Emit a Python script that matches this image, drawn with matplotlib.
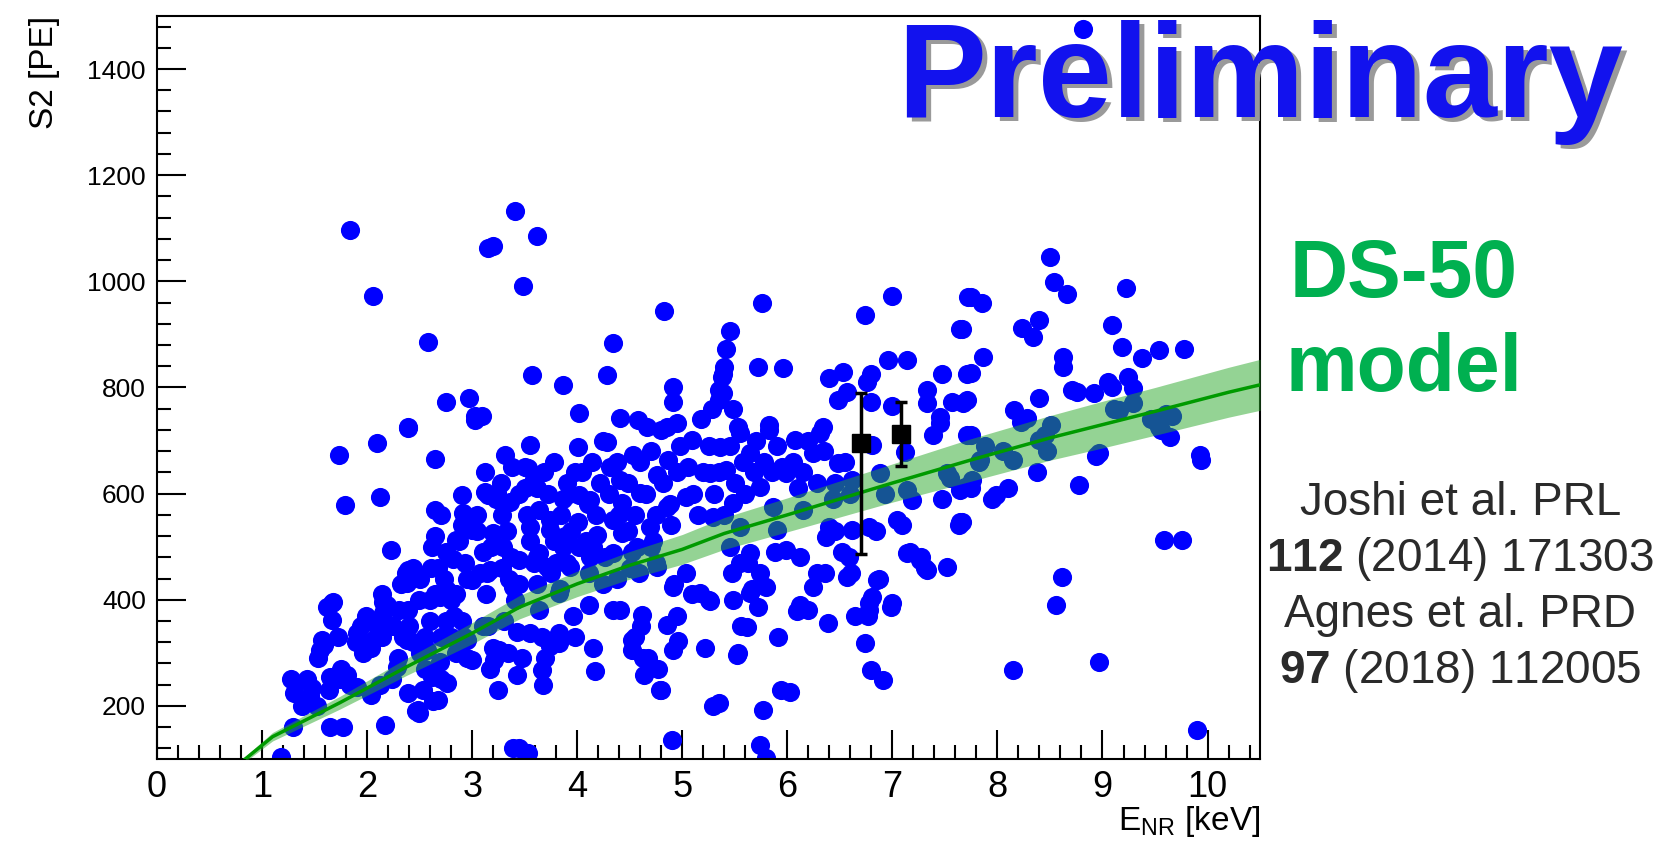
import numpy as np
import matplotlib
matplotlib.use("Agg")
import matplotlib.pyplot as plt
from matplotlib.ticker import MultipleLocator

plt.rcParams["font.family"] = ["Liberation Sans", "DejaVu Sans"]
plt.rcParams["mathtext.fontset"] = "custom"
plt.rcParams["mathtext.rm"] = "Liberation Sans"
plt.rcParams["mathtext.bf"] = "Liberation Sans:bold"

# nuclear recoil events: energy [keV] and S2 [PE]
e_nr = [
    8.81, 1.84, 3.41, 3.20, 3.62, 3.15, 2.06, 3.48, 4.83, 2.58, 4.34,
    3.57, 3.86, 4.28, 4.02, 4.41, 4.58, 4.91, 4.91, 5.35, 5.42, 5.40, 5.38, 5.35, 4.85, 3.09,
    2.75, 2.97, 3.03, 2.39,
    5.76, 6.74, 7.00, 7.72, 7.64, 5.45, 5.72, 5.96, 6.96, 7.14, 7.47, 7.71, 6.40, 6.53, 6.80,
    6.76, 6.57, 6.48, 6.80, 7.00, 7.33, 7.33, 7.45, 7.57, 7.71, 5.39, 5.39, 5.53, 5.83, 6.34,
    8.50, 8.54, 8.66, 9.22, 7.75, 7.85, 7.66, 8.23, 8.40, 8.34, 9.09, 9.19, 9.54, 9.38, 9.78,
    7.86, 7.75, 8.62, 8.62, 8.40, 8.76, 8.92, 9.09, 9.24, 9.29, 8.16, 8.28, 7.67, 9.16, 9.66,
    7.75, 8.97, 8.78, 7.99, 7.66, 9.59, 9.76, 8.61, 8.56, 9.94, 9.93, 9.64, 9.54, 7.83, 8.15,
    8.40, 8.47, 7.76, 7.69,
    8.15, 8.97, 9.90,
    5.74, 5.80, 6.09, 6.39, 6.78, 6.99, 5.62, 5.52, 6.74, 6.80, 6.91, 6.03, 5.77, 5.35, 5.72,
    3.39, 3.53, 3.45, 4.90, 4.15, 4.17, 3.43, 3.66, 3.67, 3.21, 3.34, 3.74, 3.83, 4.52, 4.52,
    4.67, 4.64, 4.80, 4.91, 4.96, 4.85, 4.62, 4.34, 5.26, 3.26, 3.83, 3.55,
    1.67, 1.57, 1.55, 1.31, 1.30, 1.46, 1.65, 1.81, 1.90, 1.52, 1.65, 1.77, 1.29, 2.17, 2.49,
    1.18, 2.06, 2.13, 2.15, 2.38, 2.28, 2.39, 2.62, 2.67, 2.48, 2.76, 3.00, 2.95, 2.57, 2.69,
    1.62, 1.67, 1.90,
    2.39, 3.03, 2.09, 1.73, 2.65, 1.79, 2.12, 2.65, 2.90, 3.15, 2.91, 2.23, 2.61, 2.39, 1.68,
    2.15, 2.38, 2.69, 2.85, 3.00, 2.82, 3.00, 2.76, 3.14,
    3.31, 3.55, 3.53, 3.58, 3.24, 3.36, 3.12, 3.90, 4.01, 4.02, 4.14, 4.28, 4.31, 4.41, 4.53,
    4.66, 4.80, 4.95, 5.09, 4.86, 4.76, 4.60, 4.43, 4.34, 4.12, 4.01, 3.64, 3.55, 3.74, 3.20,
    3.29, 3.45, 3.64, 3.86, 4.02, 4.19, 4.43, 4.69, 4.85, 5.04, 5.26, 5.36, 5.29, 3.71, 3.93,
    4.12, 4.34, 4.57, 5.04, 5.17, 4.91, 4.76, 3.83, 3.39, 3.17,
    5.55, 5.83, 6.07, 6.31, 5.64, 6.24, 6.48, 6.81, 7.12, 7.45, 7.71, 5.42, 5.74, 5.99, 6.28,
    6.62, 6.88, 7.14, 7.19, 7.52, 7.64, 5.48, 5.86, 6.15, 6.40, 5.90, 5.55, 5.45, 5.64, 5.99,
    6.12, 6.37, 6.62, 6.78, 7.09, 7.64, 6.59, 6.85, 6.57, 6.28, 6.24, 7.26, 7.52, 7.33, 7.14,
    5.74, 5.55, 5.64, 5.48, 6.12, 6.78, 7.00, 5.80,
    2.04, 2.09, 2.14, 2.19, 2.14, 2.04, 2.12, 2.24, 2.29, 2.34, 2.39, 2.37, 2.44, 2.32, 2.47,
    2.53, 2.55, 2.60, 2.65, 2.67, 2.73, 2.75, 2.80, 2.83, 2.63, 2.70, 2.85, 2.87, 2.93, 2.95,
    2.92, 2.44, 2.49, 2.65, 2.70,
    1.28, 1.43, 1.53, 1.59, 1.48, 1.64, 1.74, 1.84, 1.89, 1.94, 1.99, 1.96, 1.72, 1.75, 1.38,
    3.05, 3.10, 3.07, 3.13, 3.15, 3.20, 3.17, 3.23, 3.27, 3.33, 3.37, 3.35, 3.41, 3.43, 3.47,
    3.50, 3.52, 3.55, 3.59, 3.62, 3.64, 3.66, 3.69, 3.74, 3.78, 3.80, 3.84, 3.86, 3.94, 3.96,
    3.98, 3.30, 3.25, 3.10,
    4.11, 4.41, 4.55, 4.61, 4.63, 4.77, 4.79, 4.95, 4.92, 4.38, 4.26, 4.08, 4.11, 4.48, 4.52,
    4.59, 4.72, 4.75, 4.89,
    5.09, 5.25, 5.22, 5.29, 5.53, 5.56, 5.66, 5.63, 5.47, 5.91, 5.94, 5.88,
    6.36, 6.20, 6.43, 6.52, 6.61, 6.64, 6.77, 6.81, 6.84, 6.87, 6.93,
    7.04, 7.17, 7.27, 7.31, 7.39, 7.47, 7.55, 7.63, 7.75, 7.82, 7.88, 7.95,
    8.05, 8.10, 8.22, 8.38, 8.45, 8.51, 8.71, 8.94,
    9.05, 9.11, 9.29, 9.46, 9.56, 9.60,
    3.05, 3.12, 3.18, 3.28, 3.38, 3.45, 3.50, 3.62, 3.68, 3.72, 3.78, 3.85, 3.88, 3.92, 3.98,
    3.28, 3.45, 3.62, 3.90, 3.75,
    4.05, 4.10, 4.18, 4.22, 4.25, 4.30, 4.38, 4.40, 4.48, 4.55, 4.60, 4.65, 4.70, 4.75, 4.82,
    4.88, 4.95, 4.98, 4.70, 4.50, 4.25, 4.15,
    5.05, 5.10, 5.15, 5.20, 5.25, 5.30, 5.35, 5.40, 5.45, 5.50, 5.58, 5.60, 5.68, 5.70, 5.78,
    5.85, 5.90, 5.95, 5.18, 5.28, 5.48,
    2.25, 2.30, 2.40, 2.50, 2.55, 2.60, 2.70, 2.75, 2.80, 2.90, 2.95, 2.85, 2.50, 2.62, 2.90,
    6.05, 6.15, 6.20, 6.35, 6.45, 6.55, 6.60, 6.10, 6.45,
]
s2 = [
    1475, 1096, 1133, 1067, 1086, 1063, 973, 992, 945, 885, 883,
    823, 804, 823, 751, 742, 738, 801, 772, 795, 873, 838, 819, 776, 725, 747,
    772, 780, 746, 725,
    959, 936, 973, 971, 911, 907, 838, 836, 851, 851, 826, 826, 817, 829, 826,
    810, 791, 776, 772, 766, 795, 770, 744, 772, 777, 826, 789, 725, 729, 725,
    1045, 998, 977, 987, 971, 959, 911, 913, 927, 895, 917, 876, 870, 855, 873,
    857, 827, 857, 838, 781, 791, 789, 801, 819, 799, 757, 742, 770, 757, 747,
    710, 677, 616, 597, 547, 512, 512, 443, 390, 663, 672, 706, 725, 663, 663,
    701, 681, 625, 612,
    268, 282, 155,
    127, 102, 378, 356, 381, 387, 349, 296, 318, 268, 249, 227, 193, 206, 387,
    121, 112, 120, 136, 310, 265, 259, 268, 240, 287, 300, 312, 319, 324, 306,
    290, 259, 230, 306, 322, 353, 372, 381, 397, 306, 338, 338,
    394, 324, 306, 244, 224, 218, 255, 259, 236, 199, 161, 161, 161, 165, 187,
    104, 324, 358, 376, 324, 274, 224, 255, 212, 193, 244, 287, 324, 306, 282,
    387, 362, 338,
    723, 738, 695, 672, 666, 578, 593, 569, 597, 597, 563, 494, 460, 456, 396,
    396, 432, 406, 512, 531, 476, 437, 418, 450,
    672, 691, 648, 622, 601, 584, 603, 620, 687, 597, 659, 697, 650, 625, 672,
    725, 719, 733, 701, 663, 635, 601, 582, 550, 588, 546, 569, 537, 531, 526,
    499, 475, 488, 499, 499, 522, 526, 537, 575, 593, 639, 687, 556, 462, 462,
    481, 488, 499, 450, 413, 424, 462, 413, 424, 456,
    714, 719, 701, 714, 676, 676, 657, 691, 678, 734, 710, 644, 612, 638, 620,
    625, 638, 606, 588, 638, 606, 582, 575, 569, 537, 531, 537, 499, 488, 494,
    481, 518, 531, 537, 541, 546, 481, 437, 443, 450, 424, 475, 462, 456, 488,
    450, 469, 413, 400, 390, 394, 394, 424,
    310, 350, 330, 390, 410, 220, 240, 250, 290, 330, 380, 450, 460, 430, 190,
    230, 330, 360, 410, 460, 440, 490, 330, 370, 210, 250, 410, 510, 470, 290,
    330, 320, 400, 520, 560,
    250, 250, 290, 314, 234, 230, 250, 240, 320, 350, 370, 300, 330, 270, 200,
    530, 490, 450, 410, 350, 310, 270, 590, 620, 530, 480, 440, 400, 340, 290,
    610, 560, 510, 470, 430, 380, 330, 290, 550, 510, 470, 420, 590, 530, 370,
    330, 360, 230, 350,
    390, 380, 330, 350, 290, 270, 230, 370, 430, 440, 480, 510, 450, 530, 490,
    450, 510, 470, 540,
    410, 400, 310, 200, 300, 350, 420, 470, 450, 330, 230, 490,
    450, 380, 590, 490, 450, 370, 370, 405, 530, 440, 600,
    550, 490, 480, 460, 710, 590, 630, 540, 610, 660, 690, 590,
    680, 610, 735, 640, 710, 730, 795, 670,
    810, 760, 770, 740, 720, 750,
    560, 640, 500, 560, 650, 600, 650, 610, 640, 600, 660, 560, 520, 600, 640,
    460, 430, 480, 470, 450,
    640, 580, 560, 620, 700, 600, 660, 560, 620, 560, 660, 600, 680, 560, 620,
    580, 640, 690, 500, 460, 430, 500,
    650, 600, 560, 640, 690, 600, 640, 560, 690, 620, 660, 600, 640, 700, 660,
    640, 690, 650, 740, 760, 760,
    350, 380, 350, 300, 270, 400, 330, 360, 400, 360, 440, 300, 440, 500, 540,
    660, 640, 700, 680, 620, 660, 600, 610, 530,
]

# DS-50 model prediction with its uncertainty band
model_e = [0.84, 1.1, 1.74, 2.38, 3.0, 3.45, 4.0, 4.5, 5.0, 5.4, 6.0, 6.5,
           7.0, 7.74, 8.5, 9.0, 9.5, 10.2, 10.5]
model_s2 = [100, 142, 206, 274, 337, 386, 430, 465, 495, 525, 560, 590,
            620, 663, 705, 730, 755, 791, 805]
model_err = [5, 8, 12, 16, 20, 22, 24, 26, 28, 30, 32, 34,
             36, 40, 42, 44, 45, 47, 48]

# mean S2 points with error bars
mean_e = [6.70, 7.08]
mean_s2 = [695, 713]
mean_lo = [487, 652]
mean_hi = [789, 772]

x_ticks = list(range(0, 11))
y_ticks = [200, 400, 600, 800, 1000, 1200, 1400]

fig = plt.figure(figsize=(16.65, 8.49), dpi=100)
ax = fig.add_axes([0.0943, 0.106, 0.6625, 0.8752])

ax.scatter(e_nr, s2, s=190, marker="o", color="#0000ff", linewidths=0, zorder=2)

m_e = np.array(model_e)
m_s2 = np.array(model_s2)
m_err = np.array(model_err)
ax.fill_between(m_e, m_s2 - m_err, m_s2 + m_err, color="#2aa82a", alpha=0.5,
                linewidth=0, zorder=3)
ax.plot(m_e, m_s2, color="#009a00", linewidth=2.5, zorder=4)

yerr = [np.array(mean_s2) - np.array(mean_lo), np.array(mean_hi) - np.array(mean_s2)]
ax.errorbar(mean_e, mean_s2, yerr=yerr, fmt="s", color="black", markersize=13,
            elinewidth=2.5, capsize=4, capthick=2.5, zorder=5)

ax.set_xlim(0, 10.5)
ax.set_ylim(100, 1500)
ax.set_xticks(x_ticks)
ax.set_xticklabels([str(t) for t in x_ticks])
ax.set_yticks(y_ticks)
ax.set_yticklabels([str(t) for t in y_ticks])
ax.xaxis.set_minor_locator(MultipleLocator(0.2))
ax.yaxis.set_minor_locator(MultipleLocator(40))
ax.tick_params(axis="x", which="major", direction="in", length=21, width=1.5,
               labelsize=26, pad=8)
ax.tick_params(axis="x", which="minor", direction="in", length=10, width=1.5)
ax.tick_params(axis="y", which="major", direction="in", length=21, width=1.5,
               labelsize=19, pad=8)
ax.tick_params(axis="y", which="minor", direction="in", length=10, width=1.5)
for sp in ax.spines.values():
    sp.set_linewidth(1.5)

fig.text(0.027, 0.981, "S2 [PE]", rotation=90, ha="center", va="top", fontsize=24)
fig.text(0.7568, 0.022, r"E$_{\mathrm{NR}}$ [keV]", ha="right", va="baseline",
         fontsize=24)

# overlay labels, with a grey drop shadow behind the blue one
fig.text(0.760, 0.857, "Preliminary", ha="center", va="baseline", fontsize=96,
         fontweight="bold", color="#9a9a9a", zorder=10)
fig.text(0.757, 0.862, "Preliminary", ha="center", va="baseline", fontsize=96,
         fontweight="bold", color="#1212ee", zorder=11)

fig.text(0.843, 0.650, "DS-50", ha="center", va="baseline", fontsize=58,
         fontweight="bold", color="#00b050")
fig.text(0.843, 0.540, "model", ha="center", va="baseline", fontsize=58,
         fontweight="bold", color="#00b050")

cite = ["Joshi et al. PRL", r"$\mathbf{112}$ (2014) 171303",
        "Agnes et al. PRD", r"$\mathbf{97}$ (2018) 112005"]
for i, line in enumerate(cite):
    fig.text(0.877, 0.393 - i * 0.066, line, ha="center", va="baseline",
             fontsize=33, color="#2a2a2a")

fig.savefig("out.png", dpi=100)
